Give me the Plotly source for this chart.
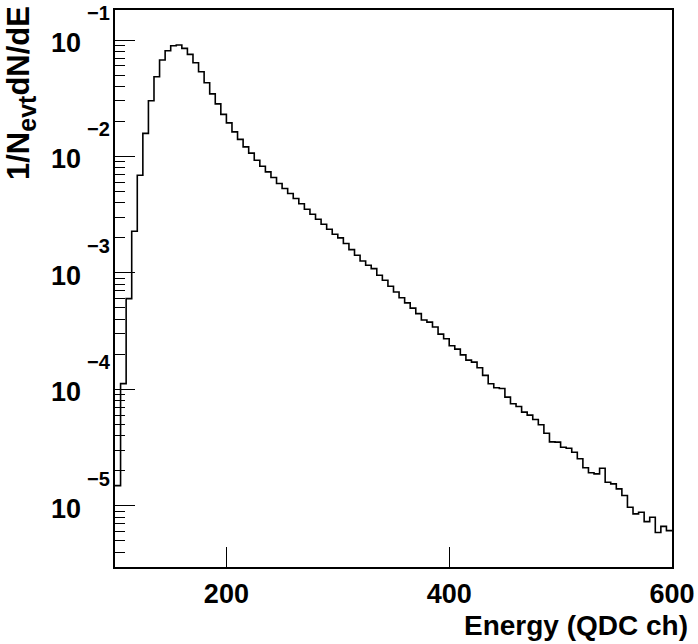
import plotly.graph_objects as go

# Histogram: 100 bins of width 5 from 100 to 600 (QDC channels)
bin_edges = [100 + 5 * i for i in range(101)]
values = [
    1.49e-5, 1.12e-4, 6.01e-4, 2.28e-3, 6.90e-3, 1.578e-2, 3.006e-2, 4.835e-2, 6.73e-2, 8.09e-2,
    8.93e-2, 9.06e-2, 8.48e-2, 7.53e-2, 6.38e-2, 5.34e-2, 4.30e-2, 3.45e-2, 2.828e-2, 2.301e-2,
    1.945e-2, 1.627e-2, 1.403e-2, 1.209e-2, 1.068e-2, 9.29e-3, 8.25e-3, 7.37e-3, 6.60e-3, 5.86e-3,
    5.31e-3, 4.81e-3, 4.35e-3, 3.92e-3, 3.52e-3, 3.19e-3, 2.89e-3, 2.62e-3, 2.37e-3, 2.15e-3,
    2.00e-3, 1.786e-3, 1.586e-3, 1.417e-3, 1.266e-3, 1.162e-3, 1.088e-3, 9.54e-4, 8.64e-4, 7.67e-4,
    6.85e-4, 6.11e-4, 5.53e-4, 4.98e-4, 4.47e-4, 3.94e-4, 3.78e-4, 3.43e-4, 2.98e-4, 2.72e-4,
    2.37e-4, 2.216e-4, 1.976e-4, 1.783e-4, 1.714e-4, 1.533e-4, 1.317e-4, 1.117e-4, 1.032e-4, 1.018e-4,
    8.57e-5, 7.52e-5, 7.13e-5, 6.37e-5, 6.00e-5, 5.51e-5, 4.97e-5, 4.20e-5, 3.54e-5, 3.52e-5,
    3.18e-5, 3.12e-5, 2.88e-5, 2.53e-5, 2.12e-5, 1.92e-5, 1.88e-5, 2.10e-5, 1.59e-5, 1.54e-5,
    1.397e-5, 1.224e-5, 9.70e-6, 8.52e-6, 8.79e-6, 7.31e-6, 7.96e-6, 5.89e-6, 6.65e-6, 6.12e-6,
]

x_range = [100, 600]
y_range_log = [-5.526, -0.742]
x_tickvals = [200, 400, 600]
x_ticktext = ["200", "400", "600"]
y_exponents = [-5, -4, -3, -2, -1]
y_tickvals = [10.0 ** e for e in y_exponents]
y_minorvals = [k * 10.0 ** e for e in range(-6, 0) for k in range(2, 10)]

x_title = "Energy (QDC ch)"
y_title = "1/N<sub><span style='font-size:25px'>evt</span></sub>dN/dE"

FONT = "Liberation Sans"
W, H = 698, 644
ML, MR, MT, MB = 115, 26, 10, 77
PW = W - ML - MR
PH = H - MT - MB


def px_to_paper_x(px):
    return (px - ML) / PW


def px_to_paper_y(py):
    return 1 - (py - MT) / PH


fig = go.Figure()
fig.add_trace(go.Scatter(
    x=bin_edges,
    y=values + [values[-1]],
    mode="lines",
    line=dict(shape="hv", color="black", width=1.6),
    showlegend=False,
    hoverinfo="skip",
))

annotations = [
    dict(text=x_title, xref="paper", yref="paper", x=px_to_paper_x(690), y=px_to_paper_y(625),
         xanchor="right", yanchor="middle", showarrow=False,
         font=dict(family=FONT, size=28, weight="bold", color="black")),
    dict(text=y_title, xref="paper", yref="paper", x=px_to_paper_x(21), y=px_to_paper_y(4),
         xanchor="center", yanchor="top", textangle=-90, showarrow=False,
         font=dict(family=FONT, size=31, weight="bold", color="black")),
]
# log-axis labels drawn ROOT-style: "10" with a raised exponent
for e in y_exponents:
    annotations.append(dict(
        text="10", xref="paper", yref="y", x=px_to_paper_x(83), y=e,
        xanchor="right", yanchor="middle", yshift=-3, showarrow=False,
        font=dict(family=FONT, size=27, weight="bold", color="black")))
    annotations.append(dict(
        text="\u2212%d" % (-e), xref="paper", yref="y", x=px_to_paper_x(85), y=e,
        xanchor="left", yanchor="middle", yshift=27, showarrow=False,
        font=dict(family=FONT, size=20, weight="bold", color="black")))

fig.update_layout(
    width=W, height=H,
    margin=dict(l=ML, r=MR, t=MT, b=MB, autoexpand=False),
    paper_bgcolor="white", plot_bgcolor="white",
    font=dict(family=FONT, color="black"),
    xaxis=dict(
        range=x_range, showgrid=False, zeroline=False, automargin=False,
        showline=True, linecolor="black", linewidth=2, mirror=True,
        ticks="inside", ticklen=20, tickwidth=1.2, tickcolor="black",
        tickmode="array", tickvals=x_tickvals, ticktext=x_ticktext,
        tickfont=dict(family=FONT, size=27, weight="bold", color="black"),
        ticklabelstandoff=2,
    ),
    yaxis=dict(
        type="log", range=y_range_log, showgrid=False, zeroline=False, automargin=False,
        showline=True, linecolor="black", linewidth=2, mirror=True,
        ticks="inside", ticklen=20, tickwidth=1.2, tickcolor="black",
        tickmode="array", tickvals=y_tickvals, showticklabels=False,
        minor=dict(ticks="inside", ticklen=10, tickwidth=1.2, tickcolor="black",
                   tickmode="array", tickvals=y_minorvals, showgrid=False),
    ),
    annotations=annotations,
)

fig.write_html("out.html")
